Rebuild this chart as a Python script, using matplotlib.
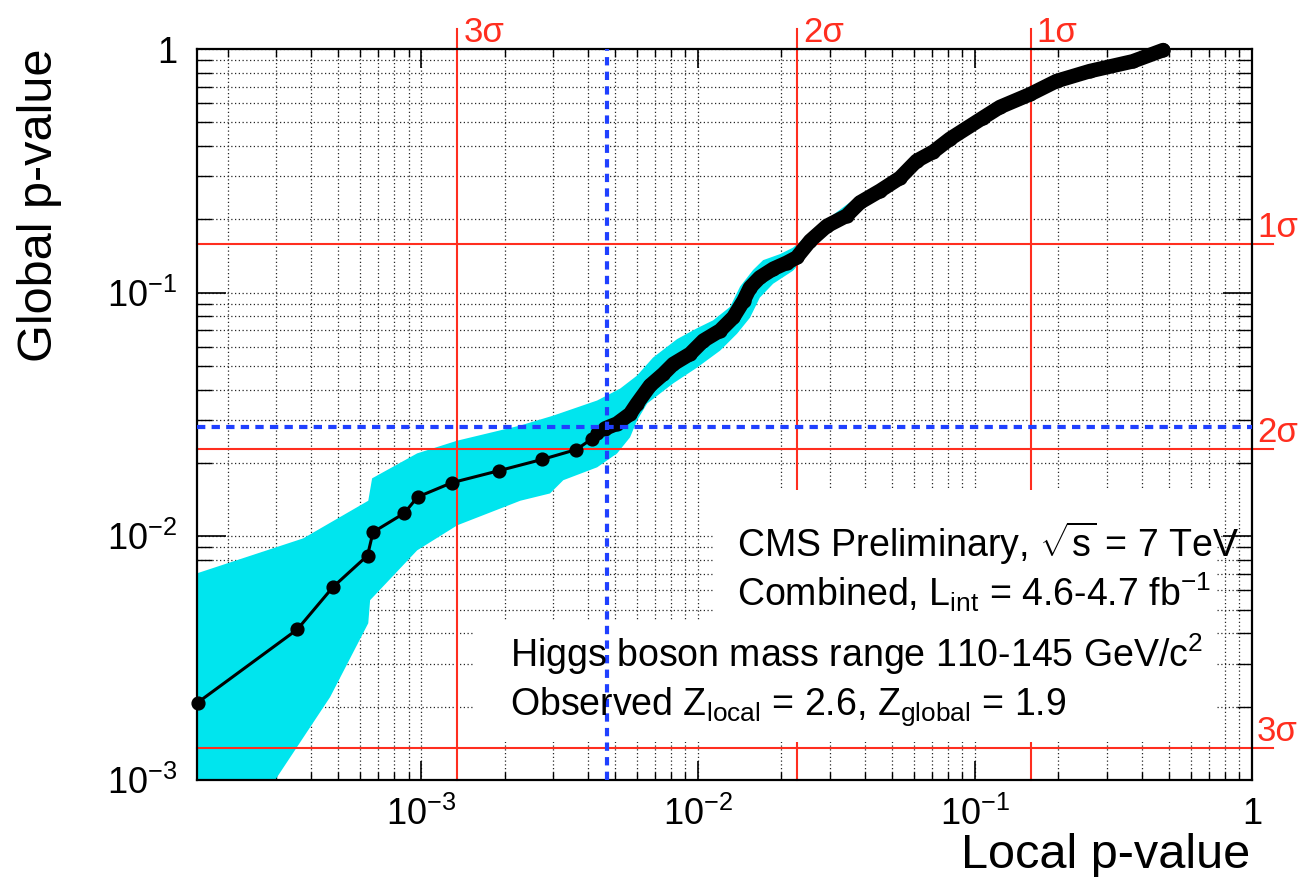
import numpy as np
import matplotlib
matplotlib.use('Agg')
import matplotlib.pyplot as plt
import matplotlib.transforms as mtransforms
from matplotlib import ticker
from matplotlib.patches import Rectangle

plt.rcParams['font.family'] = ['Liberation Sans', 'DejaVu Sans']
plt.rcParams['mathtext.fontset'] = 'custom'
plt.rcParams['mathtext.rm'] = 'Liberation Sans'
plt.rcParams['mathtext.it'] = 'Liberation Sans:italic'
plt.rcParams['mathtext.bf'] = 'Liberation Sans:bold'
plt.rcParams['mathtext.default'] = 'regular'

# observed global vs local p-value
local_p = [1.56e-4, 3.57e-4, 4.80e-4, 6.40e-4, 6.70e-4, 8.69e-4, 9.70e-4, 1.29e-3,
           1.91e-3, 2.74e-3, 3.63e-3, 4.13e-3, 4.32e-3,
           4.61e-3, 5.09e-3, 5.68e-3, 6.01e-3, 6.71e-3, 7.49e-3, 8.14e-3, 9.36e-3,
           1.045e-2, 1.20e-2, 1.34e-2, 1.46e-2, 1.54e-2, 1.67e-2, 1.87e-2, 2.09e-2,
           2.27e-2, 2.54e-2, 2.92e-2, 3.44e-2, 3.84e-2, 4.54e-2, 5.36e-2, 6.16e-2,
           7.07e-2, 8.12e-2, 0.107, 0.123, 0.158, 0.197, 0.260, 0.371, 0.478]
global_p = [2.08e-3, 4.15e-3, 6.19e-3, 8.34e-3, 1.04e-2, 1.245e-2, 1.45e-2, 1.66e-2,
            1.86e-2, 2.07e-2, 2.27e-2, 2.51e-2, 2.65e-2,
            2.77e-2, 2.90e-2, 3.18e-2, 3.50e-2, 4.16e-2, 4.64e-2, 5.10e-2, 5.61e-2,
            6.36e-2, 6.99e-2, 7.92e-2, 9.27e-2, 0.105, 0.1155, 0.1254, 0.1327,
            0.1395, 0.1633, 0.188, 0.207, 0.2345, 0.262, 0.296, 0.348,
            0.379, 0.428, 0.523, 0.578, 0.652, 0.739, 0.812, 0.890, 0.99]
dense_from = 13

# uncertainty band (upper and lower edges)
band_hi_x = [1.55e-4, 3.75e-4, 6.44e-4, 6.65e-4, 9.67e-4, 1.35e-3, 2.28e-3, 3.00e-3,
             4.32e-3, 5.23e-3, 6.02e-3, 6.88e-3, 8.40e-3, 9.92e-3, 1.133e-2, 1.305e-2,
             1.418e-2, 1.58e-2, 1.717e-2, 1.977e-2, 2.20e-2, 2.92e-2, 3.84e-2, 5.36e-2,
             8.12e-2, 0.158, 0.478]
band_hi = [7.05e-3, 9.81e-3, 1.40e-2, 1.73e-2, 2.19e-2, 2.47e-2, 2.85e-2, 3.13e-2,
           3.61e-2, 4.04e-2, 4.57e-2, 5.42e-2, 6.45e-2, 7.15e-2, 7.70e-2, 8.75e-2,
           0.106, 0.124, 0.136, 0.144, 0.153, 0.200, 0.252, 0.31,
           0.44, 0.67, 1.0]
band_lo_x = [1.55e-4, 2.97e-4, 4.69e-4, 6.44e-4, 6.54e-4, 9.67e-4, 1.35e-3, 2.28e-3,
             2.92e-3, 3.26e-3, 4.32e-3, 5.10e-3, 5.68e-3, 6.02e-3, 6.55e-3, 8.12e-3,
             9.92e-3, 1.20e-2, 1.383e-2, 1.54e-2, 1.67e-2, 1.866e-2, 2.20e-2, 2.92e-2,
             3.84e-2, 5.36e-2, 8.12e-2, 0.158, 0.478]
band_lo = [3.28e-4, 1.0e-3, 2.19e-3, 4.40e-3, 5.47e-3, 8.76e-3, 1.11e-2, 1.40e-2,
           1.50e-2, 1.70e-2, 1.92e-2, 2.19e-2, 2.55e-2, 2.99e-2, 3.51e-2, 4.24e-2,
           4.93e-2, 5.78e-2, 6.79e-2, 7.90e-2, 9.54e-2, 0.1088, 0.123, 0.178,
           0.226, 0.283, 0.41, 0.64, 0.97]

sigma_names = ['1\u03c3', '2\u03c3', '3\u03c3']
sigma_p = [0.1587, 0.02275, 0.00135]

obs_local = 4.7e-3
obs_global = 0.028

xticks = [1e-3, 1e-2, 1e-1, 1]
xticklabels = [r'$10^{-3}$', r'$10^{-2}$', r'$10^{-1}$', '1']
yticks = [1e-3, 1e-2, 1e-1, 1]
yticklabels = [r'$10^{-3}$', r'$10^{-2}$', r'$10^{-1}$', '1']

red = '#ff2e1f'
blue = '#1f40ff'
cyan = '#00e5ee'

fig = plt.figure(figsize=(13.01, 8.77), dpi=100)
ax = fig.add_axes([0.1514, 0.1106, 0.8109, 0.8335])
ax.set_xscale('log')
ax.set_yscale('log')
ax.set_xlim(1.55e-4, 1)
ax.set_ylim(1e-3, 1)

# grid and ticks
ax.set_axisbelow(True)
for axis in (ax.xaxis, ax.yaxis):
    axis.set_major_locator(ticker.LogLocator(base=10))
    axis.set_minor_locator(ticker.LogLocator(base=10, subs=np.arange(2, 10)))
    axis.set_minor_formatter(ticker.NullFormatter())
ax.set_xticks(xticks)
ax.set_xticklabels(xticklabels)
ax.set_yticks(yticks)
ax.set_yticklabels(yticklabels)
ax.grid(which='both', color='0.15', linestyle=(0, (1, 2)), linewidth=0.9)

ax.tick_params(axis='x', which='major', direction='in', length=14, width=1.2,
               top=True, labelsize=26, pad=12)
ax.tick_params(axis='x', which='minor', direction='in', length=6, width=1.0, top=True)
ax.tick_params(axis='y', which='major', direction='in', length=21, width=1.2,
               right=True, labelsize=26, pad=14)
ax.tick_params(axis='y', which='minor', direction='in', length=11, width=1.0, right=True)
for sp in ax.spines.values():
    sp.set_linewidth(1.6)

# band
ax.fill(np.r_[band_hi_x, band_lo_x[::-1]], np.r_[band_hi, band_lo[::-1]],
        color=cyan, lw=0, zorder=1)

# sigma lines
tx = mtransforms.blended_transform_factory(ax.transData, ax.transAxes)
ty = mtransforms.blended_transform_factory(ax.transAxes, ax.transData)
for name, p in zip(sigma_names, sigma_p):
    ax.plot([p, p], [0, 1.027], transform=tx, color=red, lw=1.5, clip_on=False, zorder=1.5)
    ax.plot([0, 1.02], [p, p], transform=ty, color=red, lw=1.5, clip_on=False, zorder=1.5)
    ax.annotate(name, xy=(p, 1), xycoords=tx, xytext=(6, 7), textcoords='offset pixels',
                color=red, fontsize=25, ha='left', va='baseline')
    ax.annotate(name, xy=(1, p), xycoords=ty, xytext=(5, 7), textcoords='offset pixels',
                color=red, fontsize=25, ha='left', va='baseline')

# white boxes behind the text
ax.add_patch(Rectangle((0.491, 0.219), 0.474, 0.178, transform=ax.transAxes,
                       facecolor='white', edgecolor='none', zorder=2))
ax.add_patch(Rectangle((0.2616, 0.052), 0.7034, 0.167, transform=ax.transAxes,
                       facecolor='white', edgecolor='none', zorder=2))

# observed values
ax.axvline(obs_local, color=blue, lw=3, linestyle=(0, (2, 1.5)), zorder=5)
ax.axhline(obs_global, color=blue, lw=3, linestyle=(0, (2, 1.5)), zorder=5)

# curve
ax.plot(local_p, global_p, '-o', color='k', lw=2.2, ms=9.2, zorder=4, clip_on=False)
ax.plot(local_p[dense_from:], global_p[dense_from:], color='k', lw=10.5,
        solid_capstyle='round', solid_joinstyle='round', zorder=4, clip_on=False)

# text
fig.text(737 / 1301, 1 - 557 / 877, r'CMS Preliminary, $\sqrt{s}$ = 7 TeV', fontsize=27,
         ha='left', va='baseline')
fig.text(737 / 1301, 1 - 606 / 877, r'Combined, L$_{int}$ = 4.6-4.7 fb$^{-1}$', fontsize=27,
         ha='left', va='baseline')
fig.text(510 / 1301, 1 - 667 / 877, r'Higgs boson mass range 110-145 GeV/c$^{2}$',
         fontsize=27, ha='left', va='baseline')
fig.text(510 / 1301, 1 - 715 / 877, r'Observed Z$_{local}$ = 2.6, Z$_{global}$ = 1.9',
         fontsize=27, ha='left', va='baseline')

fig.text(1250 / 1301, 1 - 868 / 877, 'Local p-value', fontsize=35, ha='right', va='baseline')
fig.text(40 / 1301, 1 - 48 / 877, 'Global p-value', fontsize=35, rotation=90,
         ha='center', va='top')

fig.savefig('out.png', dpi=100)
